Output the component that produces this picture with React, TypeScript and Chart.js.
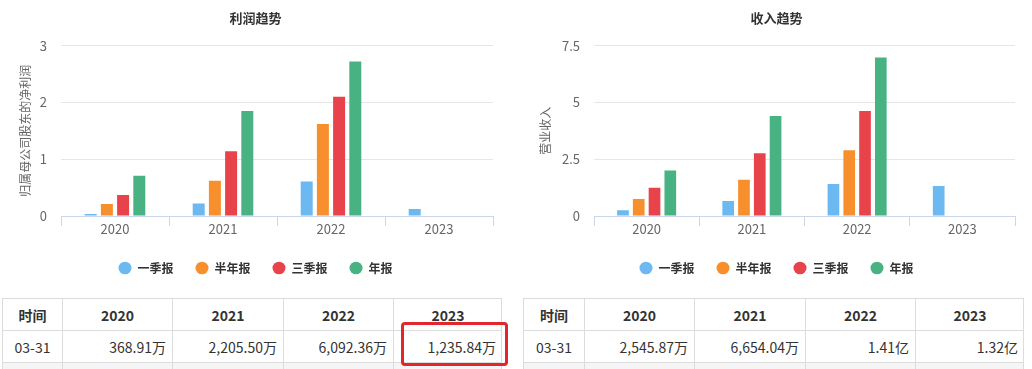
import React, { useEffect, useRef } from "react";
import { Chart, registerables } from "chart.js";

Chart.register(...registerables);

const years = ["2020", "2021", "2022", "2023"];
const seriesNames = ["一季报", "半年报", "三季报", "年报"];
const seriesColors = ["#6cb8f0", "#f78f2d", "#e8434b", "#48b283"];

// 利润 (亿)
const profitQ1 = [0.0369, 0.2206, 0.6092, 0.1236];
const profitH1 = [0.21, 0.62, 1.62, null];
const profitQ3 = [0.37, 1.14, 2.1, null];
const profitFY = [0.71, 1.85, 2.72, null];

// 收入 (亿)
const revenueQ1 = [0.2546, 0.6654, 1.41, 1.32];
const revenueH1 = [0.75, 1.6, 2.89, null];
const revenueQ3 = [1.24, 2.76, 4.62, null];
const revenueFY = [2.0, 4.4, 6.98, null];

const profitTicks = [0, 1, 2, 3];
const revenueTicks = [0, 2.5, 5, 7.5];

const tableHeader = ["时间", "2020", "2021", "2022", "2023"];
const profitRow = ["03-31", "368.91万", "2,205.50万", "6,092.36万", "1,235.84万"];
const revenueRow = ["03-31", "2,545.87万", "6,654.04万", "1.41亿", "1.32亿"];

const FONT = '"Noto Sans CJK SC", "Microsoft YaHei", sans-serif';

type ChartProps = {
  title: string;
  yTitle: string;
  series: (number | null)[][];
  ticks: number[];
  yWidth: number;
  padLeft: number;
  padRight: number;
};

function BarChart({ title, yTitle, series, ticks, yWidth, padLeft, padRight }: ChartProps) {
  const ref = useRef<HTMLCanvasElement | null>(null);
  useEffect(() => {
    if (!ref.current) return;
    const chart = new Chart(ref.current, {
      type: "bar",
      data: {
        labels: years,
        datasets: series.map((d, i) => ({
          label: seriesNames[i],
          data: d,
          backgroundColor: seriesColors[i],
          borderWidth: 0,
          categoryPercentage: 0.6,
          barPercentage: 0.74,
        })),
      },
      options: {
        animation: false,
        responsive: true,
        maintainAspectRatio: false,
        layout: { padding: { left: padLeft, right: padRight, top: 0, bottom: 6 } },
        plugins: {
          title: {
            display: true,
            text: title,
            color: "#333",
            font: { family: FONT, size: 13, weight: "bold" },
            padding: { top: 10, bottom: 20 },
          },
          legend: {
            position: "bottom",
            labels: {
              usePointStyle: true,
              pointStyle: "circle",
              pointStyleWidth: 13,
              boxHeight: 9,
              color: "#333",
              padding: 22,
              font: { family: FONT, size: 12, weight: "bold" },
            },
          },
          tooltip: { enabled: false },
        },
        scales: {
          x: {
            grid: {
              offset: true,
              drawOnChartArea: false,
              drawTicks: true,
              tickLength: 10,
              color: "#ccd6eb",
            },
            border: { color: "#ccd6eb" },
            ticks: { color: "#666", font: { family: FONT, size: 13 }, padding: -5 },
            afterFit: (s: any) => {
              s.height = 24;
            },
          },
          y: {
            min: 0,
            max: ticks[ticks.length - 1],
            afterBuildTicks: (s: any) => {
              s.ticks = ticks.map((v) => ({ value: v }));
            },
            grid: { color: "#e6e6e6", drawTicks: false },
            border: { display: false },
            ticks: {
              color: "#666",
              padding: 14,
              font: { family: FONT, size: 13 },
              callback: (v: any) => String(v),
            },
            title: {
              display: true,
              text: yTitle,
              color: "#666",
              font: { family: FONT, size: 12 },
              padding: { top: 0, bottom: 4 },
            },
            afterFit: (s: any) => {
              s.width = yWidth;
            },
          },
        },
      },
    } as any);
    return () => chart.destroy();
  }, []);
  return <canvas ref={ref} />;
}

function DataTable({ row, colEdges, highlight }: { row: string[]; colEdges: number[]; highlight?: boolean }) {
  const cells: React.ReactNode[] = [];
  for (let i = 0; i < 5; i++) {
    const left = colEdges[i];
    const w = colEdges[i + 1] - colEdges[i];
    const base: React.CSSProperties = {
      position: "absolute",
      left,
      width: w,
      borderLeft: "1px solid #dcdcdc",
      borderTop: "1px solid #dcdcdc",
      boxSizing: "border-box",
    };
    cells.push(
      <div
        key={"h" + i}
        style={{
          ...base,
          top: 0,
          height: 32,
          display: "flex",
          alignItems: "center",
          justifyContent: "center",
          fontWeight: "bold",
          fontSize: 14,
          color: "#333",
        }}
      >
        {tableHeader[i]}
      </div>
    );
    cells.push(
      <div
        key={"d" + i}
        style={{
          ...base,
          top: 32,
          height: 32,
          display: "flex",
          alignItems: "center",
          justifyContent: i === 0 ? "center" : "flex-end",
          paddingRight: i === 0 ? 0 : 6,
          fontSize: 14,
          color: "#333",
        }}
      >
        {row[i]}
      </div>
    );
    cells.push(<div key={"g" + i} style={{ ...base, top: 64, height: 20, background: "#f5f5f5" }} />);
  }
  const x1 = colEdges[5];
  return (
    <div style={{ position: "absolute", left: 0, top: 298, width: 1032, height: 71, fontFamily: FONT }}>
      {cells}
      <div style={{ position: "absolute", left: x1 - 1, top: 0, width: 1, height: 84, background: "#dcdcdc" }} />
      {highlight ? (
        <div
          style={{
            position: "absolute",
            left: 401,
            top: 24,
            width: 107,
            height: 44,
            border: "3px solid #e3262c",
            borderRadius: 4,
            boxSizing: "border-box",
          }}
        />
      ) : null}
    </div>
  );
}

export default function App() {
  return (
    <div
      style={{
        position: "absolute",
        left: 0,
        top: 0,
        width: 1032,
        height: 369,
        overflow: "hidden",
        background: "#fff",
        fontFamily: FONT,
      }}
    >
      <div style={{ position: "absolute", left: 0, top: 0, width: 504, height: 290 }}>
        <BarChart
          title="利润趋势"
          yTitle="归属母公司股东的净利润"
          series={[profitQ1, profitH1, profitQ3, profitFY]}
          ticks={profitTicks}
          yWidth={43}
          padLeft={18}
          padRight={11}
        />
      </div>
      <div style={{ position: "absolute", left: 516, top: 0, width: 516, height: 290 }}>
        <BarChart
          title="收入趋势"
          yTitle="营业收入"
          series={[revenueQ1, revenueH1, revenueQ3, revenueFY]}
          ticks={revenueTicks}
          yWidth={56}
          padLeft={22}
          padRight={17}
        />
      </div>
      <DataTable row={profitRow} colEdges={[2, 62, 172, 283, 393, 502]} highlight />
      <DataTable row={revenueRow} colEdges={[523, 584, 694, 805, 915, 1024]} />
    </div>
  );
}
